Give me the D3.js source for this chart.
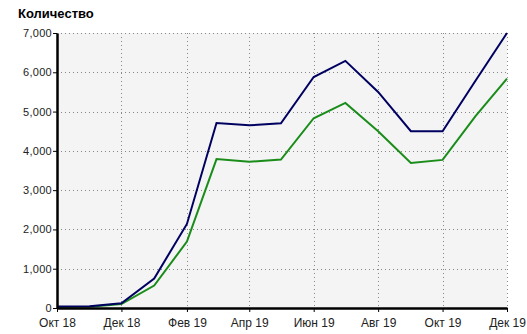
<!DOCTYPE html>
<html>
<head>
<meta charset="utf-8">
<script src="https://cdn.jsdelivr.net/npm/d3@7"></script>
<style>
  body { margin: 0; background: #fff; }
  text { font-family: "Liberation Sans", Arial, sans-serif; }
  .tick text { font-size: 11px; fill: #222; }
</style>
</head>
<body>
<div id="chart"></div>
<script>
// monthly points, Oct 2018 .. Dec 2019
const months = ["2018-10","2018-11","2018-12","2019-01","2019-02","2019-03","2019-04",
                "2019-05","2019-06","2019-07","2019-08","2019-09","2019-10","2019-11","2019-12"];
const seriesTotal = [40, 45, 120, 750, 2140, 4710, 4650, 4700, 5880, 6290, 5500, 4500, 4500, 5780, 7000];
const seriesPart  = [25, 30, 100, 570, 1690, 3790, 3720, 3780, 4830, 5220, 4500, 3690, 3770, 4880, 5840];
const monthNames = ["Янв","Фев","Мар","Апр","Май","Июн","Июл","Авг","Сен","Окт","Ноя","Дек"];
const yTicks = [0, 1000, 2000, 3000, 4000, 5000, 6000, 7000];

const width = 527, height = 334;
const margin = { top: 33, right: 20, bottom: 26, left: 57 };
const innerW = width - margin.left - margin.right;
const innerH = height - margin.top - margin.bottom;

const parse = d3.timeParse("%Y-%m");
const dates = months.map(parse);

const x = d3.scaleTime()
    .domain(d3.extent(dates))
    .range([0, innerW]);

const y = d3.scaleLinear()
    .domain([0, 7000])
    .range([innerH, 0]);

const svg = d3.select("#chart")
    .append("svg")
    .attr("width", width)
    .attr("height", height);

// title
svg.append("text")
    .attr("x", 18)
    .attr("y", 18)
    .style("font-weight", "bold")
    .style("font-size", "13px")
    .attr("fill", "#000")
    .text("Количество");

const g = svg.append("g")
    .attr("transform", `translate(${margin.left},${margin.top})`);

// plot background
g.append("rect")
    .attr("width", innerW)
    .attr("height", innerH)
    .attr("fill", "#f4f4f4");

const xTickDates = dates.filter((d, i) => i % 2 === 0);

// grid lines
g.append("g")
    .selectAll("line.h")
    .data(yTicks.slice(1))
    .enter()
    .append("line")
    .attr("x1", 0)
    .attr("x2", innerW)
    .attr("y1", d => Math.round(y(d)) + 0.5)
    .attr("y2", d => Math.round(y(d)) + 0.5)
    .attr("stroke", "#888")
    .attr("stroke-dasharray", "1,3");

g.append("g")
    .selectAll("line.v")
    .data(xTickDates.slice(1))
    .enter()
    .append("line")
    .attr("x1", d => Math.round(x(d)) + 0.5)
    .attr("x2", d => Math.round(x(d)) + 0.5)
    .attr("y1", 0)
    .attr("y2", innerH)
    .attr("stroke", "#888")
    .attr("stroke-dasharray", "1,3");

// lines
const line = d3.line()
    .x((d, i) => x(dates[i]))
    .y(d => y(d));

g.append("path")
    .datum(seriesPart)
    .attr("fill", "none")
    .attr("stroke", "#1a8c1a")
    .attr("stroke-width", 2)
    .attr("d", line);

g.append("path")
    .datum(seriesTotal)
    .attr("fill", "none")
    .attr("stroke", "#000060")
    .attr("stroke-width", 2)
    .attr("d", line);

// axes
const yAxis = g.append("g")
    .call(d3.axisLeft(y).tickValues(yTicks).tickFormat(d3.format(",")).tickSize(4).tickSizeOuter(0));
yAxis.select(".domain").attr("stroke", "#000").attr("stroke-width", 2.5);
yAxis.selectAll(".tick line").attr("stroke", "#000");
yAxis.selectAll(".tick text").attr("x", -5).style("letter-spacing", "0.3px");

const xAxis = g.append("g")
    .attr("transform", `translate(0,${innerH})`)
    .call(d3.axisBottom(x)
        .tickValues(xTickDates)
        .tickFormat(d => monthNames[d.getMonth()] + " " + String(d.getFullYear()).slice(2))
        .tickSize(4)
        .tickSizeOuter(0));
xAxis.select(".domain").attr("stroke", "#000").attr("stroke-width", 2.5);
xAxis.selectAll(".tick line").attr("stroke", "#000");
xAxis.selectAll(".tick text").style("font-size", "12px").attr("dy", "1em");
</script>
</body>
</html>
